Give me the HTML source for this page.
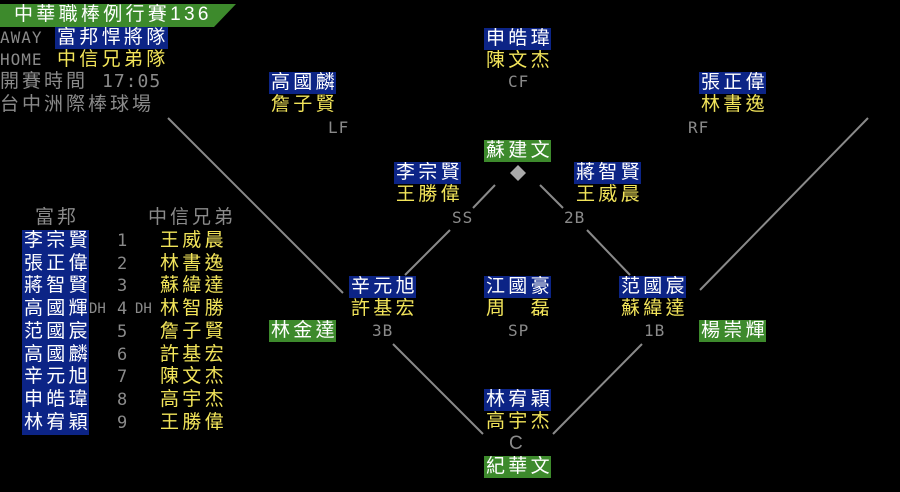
<!DOCTYPE html>
<html><head><meta charset="utf-8"><style>
body{margin:0;background:#000;width:900px;height:492px;overflow:hidden;position:relative;font-family:"Liberation Sans","Noto Sans CJK TC",sans-serif}
div{position:absolute;white-space:nowrap}
.n{font-size:19px;line-height:22px;letter-spacing:3.3px;height:22px;padding-left:2px;box-sizing:border-box}
.b{background:#0c2486;color:#fff}
.y{color:#f2e45a}
.g{background:#3d8a2c;color:#fff}
.w{color:#fff}
.l{font-family:"DejaVu Sans Mono","Liberation Mono",monospace;color:#8a8a8a;font-size:16px;line-height:22px;letter-spacing:1px}
.gr{color:#8a8a8a;font-size:19px;line-height:22px;letter-spacing:3px}
</style></head><body>
<svg width="900" height="492" style="position:absolute;left:0;top:0">
<polygon points="0,4 236,4 214,27 0,27" fill="#3d8a2c"/>
<g stroke="#8a8a8a" stroke-width="2">
<line x1="168" y1="118" x2="343" y2="293"/>
<line x1="868" y1="118" x2="700" y2="290"/>
<line x1="393" y1="344" x2="483" y2="434"/>
<line x1="553" y1="434" x2="642" y2="344"/>
<line x1="495" y1="185" x2="473" y2="208"/>
<line x1="450" y1="230" x2="405" y2="275"/>
<line x1="540" y1="185" x2="563" y2="208"/>
<line x1="587" y1="230" x2="630" y2="275"/>
</g>
<polygon points="518,165 526,173 518,181 510,173" fill="#aaa"/>
</svg>
<div class="n w" style="left:12px;top:4px">中華職棒例行賽136</div>
<div class="l" style="left:0;top:27px">AWAY</div>
<div class="n b" style="left:55px;top:27px;width:113px">富邦悍將隊</div>
<div class="l" style="left:0;top:49px">HOME</div>
<div class="n y" style="left:55px;top:49px">中信兄弟隊</div>
<div class="gr" style="left:0;top:71px">開賽時間</div>
<div class="l" style="left:102px;top:71px;font-size:18px">17:05</div>
<div class="gr" style="left:0;top:94px">台中洲際棒球場</div>

<div class="n b" style="left:484px;top:28px;width:67px">申皓瑋</div>
<div class="n y" style="left:484px;top:50px">陳文杰</div>
<div class="l" style="left:508px;top:71px">CF</div>

<div class="n b" style="left:269px;top:72px;width:67px">高國麟</div>
<div class="n y" style="left:269px;top:94px">詹子賢</div>
<div class="l" style="left:328px;top:117px">LF</div>

<div class="n b" style="left:699px;top:72px;width:67px">張正偉</div>
<div class="n y" style="left:699px;top:94px">林書逸</div>
<div class="l" style="left:688px;top:117px">RF</div>

<div class="n g" style="left:484px;top:140px;width:67px">蘇建文</div>

<div class="n b" style="left:394px;top:162px;width:67px">李宗賢</div>
<div class="n y" style="left:394px;top:184px">王勝偉</div>
<div class="l" style="left:452px;top:207px">SS</div>

<div class="n b" style="left:574px;top:162px;width:67px">蔣智賢</div>
<div class="n y" style="left:574px;top:184px">王威晨</div>
<div class="l" style="left:564px;top:207px">2B</div>

<div class="n b" style="left:349px;top:276px;width:67px">辛元旭</div>
<div class="n y" style="left:349px;top:298px">許基宏</div>
<div class="l" style="left:372px;top:320px">3B</div>

<div class="n b" style="left:484px;top:276px;width:67px">江國豪</div>
<div class="n y" style="left:484px;top:298px">周　磊</div>
<div class="l" style="left:508px;top:320px">SP</div>

<div class="n b" style="left:619px;top:276px;width:67px">范國宸</div>
<div class="n y" style="left:619px;top:298px">蘇緯達</div>
<div class="l" style="left:644px;top:320px">1B</div>

<div class="n g" style="left:269px;top:320px;width:67px">林金達</div>
<div class="n g" style="left:699px;top:320px;width:67px">楊崇輝</div>

<div class="n b" style="left:484px;top:389px;width:67px">林宥穎</div>
<div class="n y" style="left:484px;top:411px">高宇杰</div>
<div class="gr" style="left:509px;top:433px">C</div>
<div class="n g" style="left:484px;top:456px;width:67px">紀華文</div>

<div class="gr" style="left:35px;top:207px">富邦</div>
<div class="gr" style="left:148px;top:207px">中信兄弟</div>
<div style="left:22px;top:230px;width:67px;height:205px;background:#0c2486"></div>
<div class="n w" style="left:22px;top:230px;line-height:22.7px;white-space:pre;height:auto">李宗賢
張正偉
蔣智賢
高國輝
范國宸
高國麟
辛元旭
申皓瑋
林宥穎</div>
<div class="l" style="left:117px;top:230px;line-height:22.7px;white-space:pre;font-size:17px">1
2
3
4
5
6
7
8
9</div>
<div class="l" style="left:89px;top:298px;font-size:14px;letter-spacing:0">DH</div>
<div class="l" style="left:135px;top:298px;font-size:14px;letter-spacing:0">DH</div>
<div class="n y" style="left:158px;top:230px;line-height:22.7px;white-space:pre;height:auto">王威晨
林書逸
蘇緯達
林智勝
詹子賢
許基宏
陳文杰
高宇杰
王勝偉</div>
</body></html>
